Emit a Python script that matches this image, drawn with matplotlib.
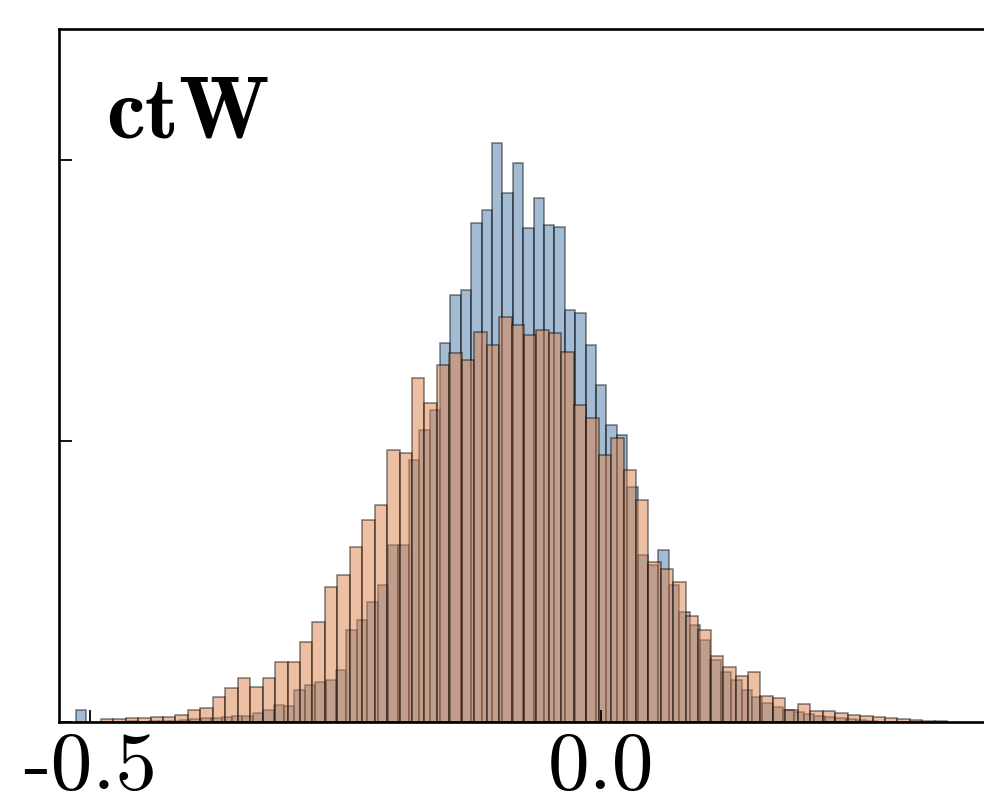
import numpy as np
import matplotlib
matplotlib.use("Agg")
import matplotlib.pyplot as plt
from matplotlib.ticker import FuncFormatter

plt.rcParams['axes.unicode_minus'] = False

# blue series: first bin edge, bin width, bar heights
blue_start = -0.5142
blue_width = 0.010176
blue_heights = [
    0.043, 0, 0, 0, 0, 0.004, 0, 0.004, 0.004, 0.004,
    0.007, 0.011, 0.014, 0.014, 0.018, 0.021, 0.021, 0.032, 0.043, 0.060,
    0.057, 0.114, 0.132, 0.142, 0.149, 0.185, 0.327, 0.363, 0.427, 0.488,
    0.630, 0.630, 0.932, 1.039, 1.110, 1.349, 1.520, 1.537, 1.776, 1.822,
    2.060, 1.883, 1.989, 1.758, 1.865, 1.769, 1.762, 1.466, 1.456, 1.342,
    1.199, 1.057, 1.021, 0.836, 0.594, 0.559, 0.612, 0.488, 0.391, 0.345,
    0.292, 0.221, 0.178, 0.149, 0.114, 0.089, 0.068, 0.053, 0.043, 0.036,
    0.028, 0.021, 0.018, 0.014, 0.011, 0.007, 0.004,
]

# orange series
orange_start = -0.4899
orange_width = 0.01218
orange_heights = [
    0.009, 0.012, 0.016, 0.016, 0.018, 0.018, 0.025, 0.043, 0.050, 0.089,
    0.121, 0.157, 0.125, 0.157, 0.214, 0.214, 0.285, 0.356, 0.480, 0.523,
    0.623, 0.719, 0.772, 0.968, 0.957, 1.224, 1.135, 1.270, 1.313, 1.288,
    1.388, 1.342, 1.441, 1.413, 1.377, 1.395, 1.384, 1.317, 1.128, 1.082,
    0.950, 1.011, 0.897, 0.790, 0.569, 0.544, 0.498, 0.377, 0.327, 0.235,
    0.196, 0.164, 0.178, 0.093, 0.085, 0.043, 0.064, 0.039, 0.039, 0.032,
    0.025, 0.021, 0.018, 0.014, 0.011, 0.007, 0.005, 0.004,
]

x_ticks = [-0.5, 0.0]
y_ticks = [0, 1, 2]
label = "ctW"


def hist_from(ax, start, width, heights, color):
    edges = start + width * np.arange(len(heights) + 1)
    centers = (edges[:-1] + edges[1:]) / 2
    ax.hist(centers, bins=edges, weights=heights, color=color, alpha=0.5,
            edgecolor='black', linewidth=1.1)


fig = plt.figure(figsize=(9.84, 8.08), dpi=100)
ax = fig.add_axes([59 / 984, 86 / 808, 941 / 984, 693 / 808])

hist_from(ax, blue_start, blue_width, blue_heights, '#4878a8')
hist_from(ax, orange_start, orange_width, orange_heights, '#dc8248')

ax.set_xlim(-0.5308, 0.39)
ax.set_ylim(0, 2.466)
ax.set_xticks(x_ticks)
ax.set_yticks(y_ticks)
ax.xaxis.set_major_formatter(FuncFormatter(lambda v, p: "%.1f" % v))
ax.set_yticklabels([])
ax.tick_params(direction='in', length=9, width=1.3, labelsize=60, pad=7)
for t in ax.get_xticklabels():
    t.set_fontfamily('cmr10')
for s in ax.spines.values():
    s.set_linewidth(1.9)

ax.text(0.05, 0.844, label, transform=ax.transAxes, fontsize=63,
        fontfamily='cmb10', ha='left', va='baseline')

fig.savefig("out.png", dpi=100)
